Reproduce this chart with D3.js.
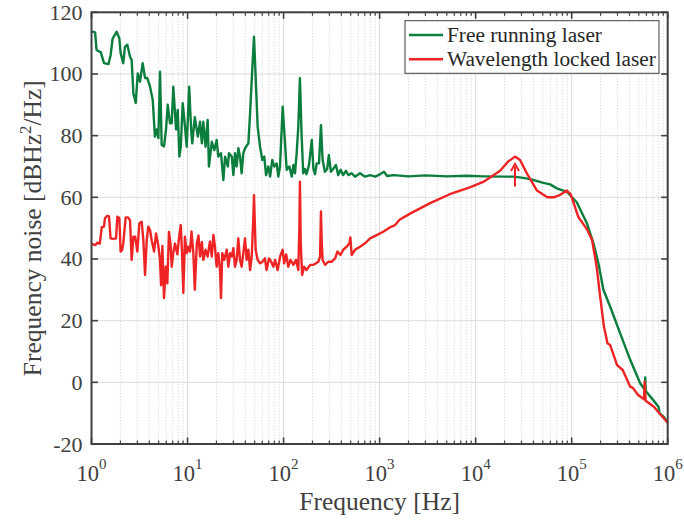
<!DOCTYPE html>
<html>
<head>
<meta charset="utf-8">
<script src="https://cdn.jsdelivr.net/npm/d3@7"></script>
<style>
body { margin: 0; background: #fff; }
</style>
</head>
<body>
<script>
// free running laser (green)
const freeF = [1, 1.09, 1.13, 1.25, 1.35, 1.5, 1.58, 1.66, 1.83, 1.95, 2.01, 2.14, 2.23, 2.36, 2.52, 2.62, 2.73, 2.89, 3.03, 3.2, 3.41, 3.61, 3.8, 4.07, 4.34, 4.58, 4.78, 4.97, 5.17, 5.38, 5.69, 5.97, 6.22, 6.57, 6.84, 7.11, 7.6, 7.91, 8.22, 8.5, 8.91, 9.41, 9.8, 10.4,
  10.9, 11.2, 11.9, 12.8, 13.5, 14.1, 14.6, 15.4, 16.2, 16.7, 17.9, 19, 20.1, 20.9, 22.3, 23.6, 24.6, 26.3, 27, 28.9, 30, 31.2, 32.5, 33.8, 35.2, 36.6, 38.1, 39.7, 43, 44.8, 46.6, 49.2, 51.7, 53.7, 56.9, 60.1, 63, 65.7, 69.4, 72.4, 76.3, 80, 84.7, 88.2, 91.8, 97.9,
  103.6, 107.8, 115, 121.7, 126.6, 131.6, 136.9, 142.4, 148, 153.9, 160.1, 166.5, 173.1, 184, 196.7, 204.5, 212.7, 221.2, 233.9, 245.2, 255, 269.4, 284.7, 296.2, 310.9, 328.5, 350.8, 371, 393, 418, 446, 474, 512, 555, 625, 706, 796, 898, 973, 1050, 1110, 1197, 1398,
  2000, 3000, 5000, 8000, 12000, 20000, 24800, 30000, 37000, 50800, 59700, 70100, 89100, 113000, 144000, 169000, 190000, 214000, 252000, 320000, 407000, 517000, 580000, 584000, 590000, 684000, 802000, 822000, 904000, 1000000];
const freeV = [113.8, 113.5, 107.8, 107, 103.5, 103.2, 106, 111.5, 113.7, 111.5, 106.8, 103.5, 108.8, 109.5, 105.6, 104.5, 93.7, 90.6, 100.2, 97.5, 103.5, 98.7, 98.7, 95.9, 91.6, 79.7, 82, 79.2, 100.7, 77, 76.5, 82, 90, 84, 84, 95.9, 82, 88.3, 73.2, 76.4, 90.5, 82.9, 76.4, 95.9,
  82, 77.5, 86, 79.7, 84.5, 77.5, 84.5, 76.4, 85.1, 70, 78, 75.3, 78.6, 73.2, 74.3, 65.6, 73.2, 70, 74.3, 73.2, 67.2, 74.3, 70, 75.9, 73.2, 67.8, 74.3, 75.9, 77.5, 87.2, 98, 112.1, 95.9, 83, 76.4, 72.1, 73.2, 67.2, 70, 66.7, 72.1, 70, 71, 66.7, 70, 89.4,
  77.5, 68.9, 70, 66.7, 70.5, 67.8, 74.3, 82.9, 98.6, 80.8, 67.8, 69.2, 67.5, 70.5, 78.6, 69.2, 67.5, 71, 71, 83.4, 72.1, 68.3, 69.2, 73.7, 68.3, 69.2, 70.5, 67.2, 68.9, 67.2, 68.6, 67.2, 67.8, 66.7, 67.8, 66.7, 67.2, 66.7, 67.2, 67.8, 68.3, 66.9, 67.2,
  66.8, 67.1, 66.8, 67, 66.8, 66.7, 66.7, 66.4, 65.9, 64.7, 64.2, 62.9, 61.8, 58.4, 51.6, 45, 38.6, 30, 24.5, 15.9, 7.3, -0.3, -2.5, 1.6, -2.8, -5.2, -7.9, -10, -11.1, -13];

// wavelength locked laser (red)
const lockF = [1, 1.1, 1.15, 1.22, 1.28, 1.35, 1.38, 1.46, 1.52, 1.58, 1.7, 1.8, 1.86, 1.95, 2.01, 2.08, 2.14, 2.27, 2.4, 2.52, 2.62, 2.73, 2.85, 3, 3.15, 3.33, 3.47, 3.61, 3.76, 3.9, 4.07, 4.24, 4.48, 4.7, 4.97, 5.17, 5.3, 5.47, 5.69, 5.93, 6.16, 6.41, 6.67, 6.84, 7.11, 7.41, 7.83, 8.22, 8.5, 8.76, 9.04,
  9.4, 9.8, 10.2, 10.6, 11, 11.5, 11.9, 12.5, 13, 13.5, 14.1, 14.6, 15.4, 16.2, 17.1, 17.9, 18.6, 19.3, 20.1, 20.9, 21.8, 22.3, 23, 24.1, 25.6, 26.6, 27.7, 28.9, 30, 31.2, 32.5, 33.8, 35.2, 36.6, 38.1, 39.7, 41.3, 43, 44.8, 46.6, 48.5, 49.2, 51.2, 53.7, 56.9, 60.1, 64, 66.5, 70.7, 74.3, 78.4, 81.5, 86.9, 92,
  98, 101.4, 106.5, 112, 118, 126.6, 134.6, 142.4, 146, 148, 151, 156, 163.5, 173, 190, 204.5, 217.5, 230, 240, 245, 250, 255, 270, 292, 316, 344, 364, 391, 418, 454, 485, 496, 512, 555, 625, 706, 796, 944, 1102, 1290, 1450, 1613,
  2100, 3360, 5380, 8700, 12000, 18000, 21800, 25700, 29000, 34100, 43500, 55700, 64900, 76000, 89000, 97500, 108000, 117000, 144000, 163000, 182000, 198000, 217000, 236000, 252000, 297000, 340000, 407000, 434000, 492000, 566000, 575000, 590000, 718000, 818000, 1000000];
const lockV = [44.9, 44.5, 45.3, 45, 50.3, 50.5, 53.2, 54, 53.8, 46.7, 46.5, 46.7, 53.7, 53.2, 42.4, 42.9, 44.9, 53.5, 53.5, 52.5, 39.7, 47.2, 47.2, 42.4, 51.6, 52.1, 46, 34.8, 46, 50.5, 49.4, 46, 42.4, 48.3, 44.2, 39.7, 31.5, 44.2, 27.3, 37.5, 32.1, 48.8, 44.4, 37.5, 42, 45, 41.5, 47.8, 51, 42.2, 29,
  47.2, 41.9, 44, 42.4, 48.9, 41.9, 30, 45, 47.6, 40.8, 45.5, 39.7, 43, 40.8, 45.7, 40.8, 47.8, 44, 37.5, 41.9, 36.4, 27.3, 41.9, 39.7, 43, 37.5, 41.9, 40.8, 43.5, 37.5, 39.7, 46.7, 39.7, 37.5, 41.9, 46.7, 39.7, 43, 36.4, 40.8, 53.7, 60.7, 43, 39.7, 38.6, 39.1, 40.2, 36.4, 40.2, 39.1, 37.5, 39.7, 36.4, 40.8,
  43, 38.6, 41.5, 37.5, 39.7, 38.1, 39.7, 36.4, 50, 65.1, 45, 34.8, 37.5, 36.4, 38.1, 38.1, 38.6, 39.1, 40.8, 55.4, 45, 39.7, 38.1, 39.1, 39.1, 40.2, 42.4, 41.3, 43, 44, 45.1, 47, 41.3, 43, 44, 45.1, 46.7, 47.8, 48.9, 50.3, 51, 52.7,
  54.8, 58.1, 61, 63.2, 65, 68.6, 71.6, 73.2, 72.1, 67.8, 62.2, 60, 60, 60.8, 62.2, 61, 57, 53.7, 49.7, 46.2, 37.5, 27.8, 18, 12.7, 12.1, 5.6, 4, -1.4, -1.8, -4.1, -5.5, 0.2, -6, -7.9, -10, -13.1];

// arrow at the locked-laser peak
const arrowF = 25700, arrowFrom = 63.5, arrowTo = 70.8;

const yTicks = [-20, 0, 20, 40, 60, 80, 100, 120];
const xDecades = [0, 1, 2, 3, 4, 5, 6];

const series = [
  {name: "Free running laser", f: freeF, v: freeV, color: "#0b7d3c"},
  {name: "Wavelength locked laser", f: lockF, v: lockV, color: "#ee2424"}
];

const W = 684, H = 521;
const pL = 91.5, pR = 667.7, pT = 12.3, pB = 444;
const axisColor = "#404040";
const serif = "'Liberation Serif', 'Times New Roman', Times, 'DejaVu Serif', serif";

const x = d3.scaleLog().domain([1, 1e6]).range([pL, pR]);
const y = d3.scaleLinear().domain([-20, 120]).range([pB, pT]);

const svg = d3.select("body").append("svg")
    .attr("width", W)
    .attr("height", H)
    .attr("font-family", serif)
    .style("font-family", serif);

const majorX = xDecades.map(d => Math.pow(10, d));
const minorX = x.ticks().filter(t => Math.abs(Math.log10(t) - Math.round(Math.log10(t))) > 1e-9);

// grid
const grid = svg.append("g");
grid.selectAll(null)
    .data(minorX)
    .join("line")
    .attr("x1", d => x(d)).attr("x2", d => x(d))
    .attr("y1", pT).attr("y2", pB)
    .attr("stroke", "#c4c4c4").attr("stroke-width", 0.8)
    .attr("stroke-dasharray", "1,2");
grid.selectAll(null)
    .data(majorX)
    .join("line")
    .attr("x1", d => x(d)).attr("x2", d => x(d))
    .attr("y1", pT).attr("y2", pB)
    .attr("stroke", "#dcdcdc").attr("stroke-width", 1);
grid.selectAll(null)
    .data(yTicks)
    .join("line")
    .attr("x1", pL).attr("x2", pR)
    .attr("y1", d => y(d)).attr("y2", d => y(d))
    .attr("stroke", "#dcdcdc").attr("stroke-width", 1);

// data lines
svg.append("clipPath").attr("id", "clip")
  .append("rect").attr("x", pL).attr("y", pT)
  .attr("width", pR - pL).attr("height", pB - pT);

const line = d3.line().x(d => x(d[0])).y(d => y(d[1]));
svg.append("g").attr("clip-path", "url(#clip)")
  .selectAll("path")
  .data(series)
  .join("path")
    .attr("d", s => line(s.f.map((f, i) => [f, s.v[i]])))
    .attr("fill", "none")
    .attr("stroke", s => s.color)
    .attr("stroke-width", 2.4)
    .attr("stroke-linejoin", "round");

// arrow
const ax = x(arrowF);
svg.append("line")
    .attr("x1", ax).attr("x2", ax)
    .attr("y1", y(arrowFrom)).attr("y2", y(arrowTo) + 3)
    .attr("stroke", series[1].color).attr("stroke-width", 2);
svg.append("path")
    .attr("d", `M${ax - 4},${y(arrowTo) + 7} L${ax},${y(arrowTo)} L${ax + 4},${y(arrowTo) + 7}`)
    .attr("fill", "none")
    .attr("stroke", series[1].color).attr("stroke-width", 2);

// ticks (inward, all four sides)
const ticks = svg.append("g").attr("stroke", axisColor);
function xTicks(vals, len, sw) {
  ticks.selectAll(null).data(vals).join("line")
    .attr("x1", d => x(d)).attr("x2", d => x(d))
    .attr("y1", pB).attr("y2", pB - len).attr("stroke-width", sw);
  ticks.selectAll(null).data(vals).join("line")
    .attr("x1", d => x(d)).attr("x2", d => x(d))
    .attr("y1", pT).attr("y2", pT + len).attr("stroke-width", sw);
}
xTicks(majorX, 6.5, 1.6);
xTicks(minorX, 3.5, 1.2);
ticks.selectAll(null).data(yTicks).join("line")
    .attr("x1", pL).attr("x2", pL + 6.5)
    .attr("y1", d => y(d)).attr("y2", d => y(d)).attr("stroke-width", 1.6);
ticks.selectAll(null).data(yTicks).join("line")
    .attr("x1", pR).attr("x2", pR - 6.5)
    .attr("y1", d => y(d)).attr("y2", d => y(d)).attr("stroke-width", 1.6);

// box
svg.append("rect")
    .attr("x", pL).attr("y", pT)
    .attr("width", pR - pL).attr("height", pB - pT)
    .attr("fill", "none").attr("stroke", axisColor).attr("stroke-width", 2);

// tick labels
svg.append("g").selectAll("text")
  .data(yTicks)
  .join("text")
    .attr("x", pL - 9)
    .attr("y", d => y(d) + 7.5)
    .attr("text-anchor", "end")
    .attr("font-size", 22)
    .attr("fill", axisColor)
    .text(d => d);

const xl = svg.append("g").selectAll("text")
  .data(xDecades)
  .join("text")
    .attr("x", d => x(Math.pow(10, d)))
    .attr("y", 481)
    .attr("text-anchor", "middle")
    .attr("font-size", 22.5)
    .attr("fill", axisColor);
xl.append("tspan").text("10");
xl.append("tspan").attr("dy", -12).attr("font-size", 15).text(d => d);

// axis labels
svg.append("text")
    .attr("x", (pL + pR) / 2)
    .attr("y", 510)
    .attr("text-anchor", "middle")
    .attr("font-size", 25.5)
    .attr("fill", axisColor)
    .text("Frequency [Hz]");

const yl = svg.append("text")
    .attr("transform", `translate(41,${(pT + pB) / 2}) rotate(-90)`)
    .attr("text-anchor", "middle")
    .attr("font-size", 25.5)
    .attr("fill", axisColor);
yl.append("tspan").text("Frequency noise [dBHz");
yl.append("tspan").attr("dy", -10).attr("font-size", 17).text("2");
yl.append("tspan").attr("dy", 10).text("/Hz]");

// legend
const lg = svg.append("g");
lg.append("rect")
    .attr("x", 405).attr("y", 20.7)
    .attr("width", 254).attr("height", 52.6)
    .attr("fill", "#fff").attr("stroke", axisColor).attr("stroke-width", 1);
const items = lg.selectAll("g.item")
  .data(series)
  .join("g")
    .attr("transform", (d, i) => `translate(0,${35 + i * 24.3})`);
items.append("line")
    .attr("x1", 409).attr("x2", 443)
    .attr("stroke", d => d.color).attr("stroke-width", 2.4);
items.append("text")
    .attr("x", 447).attr("y", 7)
    .attr("font-size", 21.3)
    .attr("fill", "#262626")
    .text(d => d.name);
</script>
</body>
</html>
